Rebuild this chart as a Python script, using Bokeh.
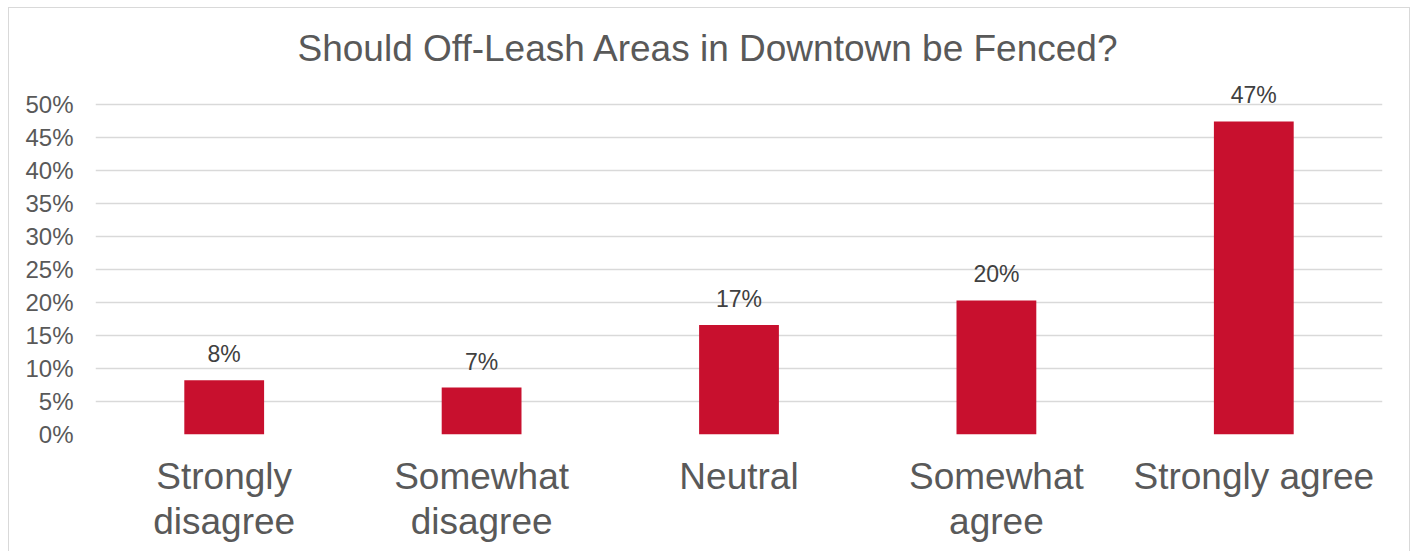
from bokeh.plotting import figure
from bokeh.models import ColumnDataSource, FixedTicker, NumeralTickFormatter, LabelSet, Range1d
from bokeh.core.properties import value
from bokeh.embed import file_html
from bokeh.resources import INLINE

categories = ["Strongly\ndisagree", "Somewhat\ndisagree", "Neutral", "Somewhat\nagree", "Strongly agree"]
shares = [0.082, 0.071, 0.166, 0.203, 0.474]
y_ticks = [0, 0.05, 0.10, 0.15, 0.20, 0.25, 0.30, 0.35, 0.40, 0.45, 0.50]

FONT = "Liberation Sans"

src = ColumnDataSource(dict(
    cat=categories,
    val=shares,
    lab=[f"{round(v * 100)}%" for v in shares],
))

p = figure(
    x_range=categories,
    y_range=Range1d(0, 0.53),
    width=1402, height=544,
    output_backend="svg", toolbar_location=None,
    min_border_left=86, min_border_right=29, min_border_top=76, min_border_bottom=118,
    title="Should Off-Leash Areas in Downtown be Fenced?",
)
p.styles = {"margin": "7px 0 0 8px",
            "border-left": "1px solid #d9d9d9", "border-top": "1px solid #d9d9d9",
            "border-right": "1px solid #d9d9d9"}
p.x_range.range_padding = 0

p.vbar(x="cat", top="val", bottom=0, width=0.31, source=src, color="#C8102E", line_color=None)

labels = LabelSet(x="cat", y="val", text="lab", source=src, text_align="center",
                  text_baseline="alphabetic", y_offset=18, text_font=value(FONT),
                  text_font_size=value("23px"), text_color="#404040")
p.add_layout(labels)

p.title.text_font = FONT
p.title.text_font_size = "37px"
p.title.text_font_style = "normal"
p.title.text_color = "#595959"
p.title.text_line_height = 1.0
p.title.align = "left"
p.title.offset = 202
p.title.standoff = 31

p.outline_line_color = None
p.xgrid.grid_line_color = None
p.ygrid.grid_line_color = "#d9d9d9"
p.ygrid.grid_line_width = 1.3
p.ygrid.ticker = FixedTicker(ticks=y_ticks)

p.yaxis.ticker = FixedTicker(ticks=y_ticks)
p.yaxis.formatter = NumeralTickFormatter(format="0%")
p.yaxis.axis_line_color = None
p.yaxis.major_tick_line_color = None
p.yaxis.minor_tick_line_color = None
p.yaxis.major_tick_out = 0
p.yaxis.major_label_standoff = 22
p.yaxis.major_label_text_font = FONT
p.yaxis.major_label_text_font_size = "24px"
p.yaxis.major_label_text_color = "#595959"

p.xaxis.axis_line_color = None
p.xaxis.major_tick_line_color = None
p.xaxis.major_tick_out = 0
p.xaxis.major_label_standoff = 21
p.xaxis.major_label_text_font = FONT
p.xaxis.major_label_text_font_size = "37px"
p.xaxis.major_label_text_line_height = 1.11
p.xaxis.major_label_text_color = "#595959"

open("out.html", "w").write(file_html(p, INLINE))
